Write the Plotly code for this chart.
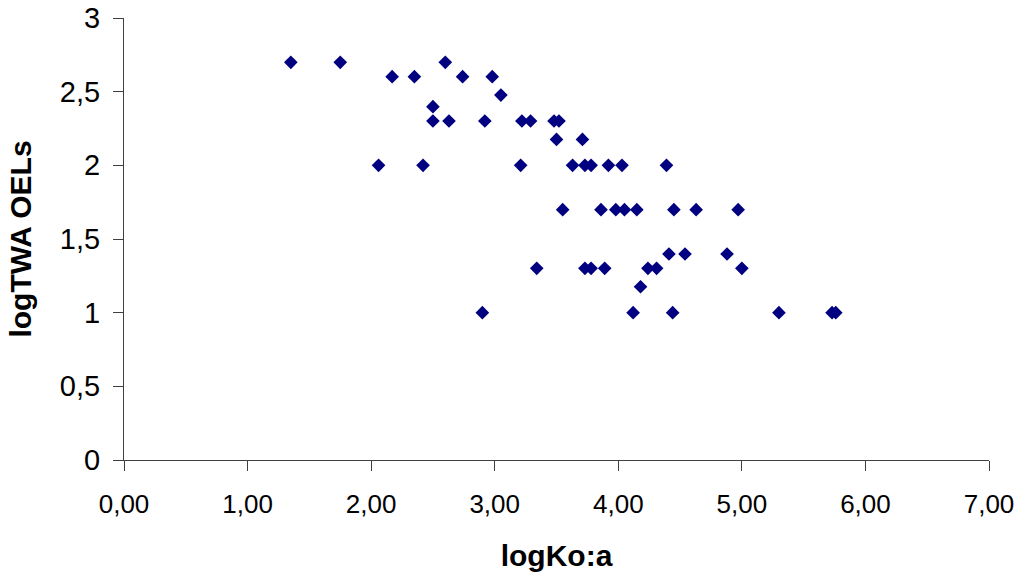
import plotly.graph_objects as go

# logKo:a values (x) and logTWA OELs (y)
log_ko_a = [
    1.35, 1.75, 2.60,
    2.17, 2.35, 2.74, 2.98,
    3.05,
    2.50,
    2.50, 2.63, 2.92, 3.22, 3.29, 3.48, 3.52,
    3.50, 3.71,
    2.06, 2.42, 3.21, 3.63, 3.73, 3.78, 3.92, 4.03, 4.39,
    3.55, 3.86, 3.98, 4.05, 4.15, 4.45, 4.63, 4.97,
    4.41, 4.54, 4.88,
    3.34, 3.73, 3.78, 3.89, 4.24, 4.31, 5.00,
    4.18,
    2.90, 4.12, 4.44, 5.30, 5.73, 5.76,
]
log_twa_oel = [
    2.699, 2.699, 2.699,
    2.602, 2.602, 2.602, 2.602,
    2.477,
    2.398,
    2.301, 2.301, 2.301, 2.301, 2.301, 2.301, 2.301,
    2.176, 2.176,
    2.0, 2.0, 2.0, 2.0, 2.0, 2.0, 2.0, 2.0, 2.0,
    1.699, 1.699, 1.699, 1.699, 1.699, 1.699, 1.699, 1.699,
    1.398, 1.398, 1.398,
    1.301, 1.301, 1.301, 1.301, 1.301, 1.301, 1.301,
    1.176,
    1.0, 1.0, 1.0, 1.0, 1.0, 1.0,
]

x_ticks = [0, 1, 2, 3, 4, 5, 6, 7]
y_ticks = [0, 0.5, 1, 1.5, 2, 2.5, 3]

FONT = "Liberation Sans, Arial, sans-serif"

fig = go.Figure(
    go.Scatter(
        x=log_ko_a,
        y=log_twa_oel,
        mode="markers",
        marker=dict(symbol="diamond", size=10.5, color="#000080",
                    line=dict(width=0)),
        showlegend=False,
    )
)

fig.update_layout(
    width=1024,
    height=579,
    margin=dict(l=124, r=35, t=18, b=119),
    paper_bgcolor="white",
    plot_bgcolor="white",
    separators=",.",
    font=dict(family=FONT, color="black"),
)

fig.update_xaxes(
    range=[0, 7],
    tickvals=x_ticks,
    tickformat=".2f",
    automargin=False,
    showgrid=False,
    zeroline=False,
    showline=True,
    linecolor="#404040",
    linewidth=1,
    ticks="outside",
    ticklen=10,
    tickcolor="#404040",
    tickfont=dict(size=26, family=FONT),
    ticklabelstandoff=11,
    title=dict(text="<b>logKo:a</b>", font=dict(size=30, family=FONT), standoff=26),
)
fig.update_yaxes(
    range=[0, 3],
    tickvals=y_ticks,
    automargin=False,
    showgrid=False,
    zeroline=False,
    showline=True,
    linecolor="#404040",
    linewidth=1,
    ticks="outside",
    ticklen=10,
    tickcolor="#404040",
    tickfont=dict(size=29, family=FONT),
    ticklabelstandoff=7,
    title=dict(text="<b>logTWA OELs</b>", font=dict(size=30, family=FONT), standoff=19),
)

fig.write_html("out.html")
